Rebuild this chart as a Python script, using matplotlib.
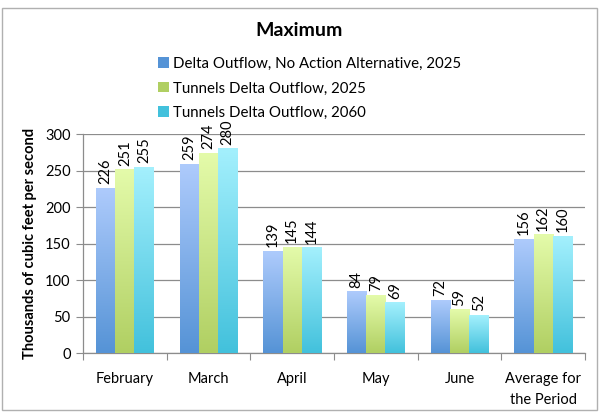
import matplotlib
matplotlib.use('Agg')
import matplotlib.pyplot as plt
import numpy as np
from matplotlib.patches import Patch, Rectangle
from matplotlib.colors import LinearSegmentedColormap

plt.rcParams['font.family'] = ['Lato', 'DejaVu Sans']

categories = ['February', 'March', 'April', 'May', 'June', 'Average for\nthe Period']
no_action_2025 = [226, 259, 139, 84, 72, 156]
tunnels_2025 = [251, 274, 145, 79, 59, 162]
tunnels_2060 = [255, 280, 144, 69, 52, 160]
series_names = ['Delta Outflow, No Action Alternative, 2025',
                'Tunnels Delta Outflow, 2025',
                'Tunnels Delta Outflow, 2060']
series = [no_action_2025, tunnels_2025, tunnels_2060]
# (top colour, bottom colour) of the gradient fill
grads = [('#aecbfc', '#5593d6'),
         ('#e4fbaa', '#b0cf62'),
         ('#a4f0fd', '#42c1dc')]

fig = plt.figure(figsize=(5.99, 4.12), dpi=100)
ax = fig.add_axes([0.1386, 0.1432, 0.838, 0.531])

x = np.arange(len(categories))
w = 0.23
grad = np.linspace(1, 0, 256).reshape(-1, 1)
for i, (vals, (c_top, c_bot)) in enumerate(zip(series, grads)):
    cmap = LinearSegmentedColormap.from_list('g%d' % i, [c_bot, c_top])
    bars = ax.bar(x + (i - 1) * w, vals, w, color=c_bot, zorder=2)
    for b, v in zip(bars, vals):
        x0 = b.get_x()
        ax.imshow(grad, cmap=cmap, aspect='auto', zorder=3,
                  extent=(x0, x0 + b.get_width(), 0, b.get_height()))
        ax.annotate(str(v), (x0 + b.get_width() / 2, v), xytext=(0, 3),
                    textcoords='offset points', rotation=90, ha='center',
                    va='bottom', fontsize=10.5, color='black', zorder=4)

ax.set_xlim(-0.5, len(categories) - 0.5)
ax.set_ylim(0, 300)
ax.set_yticks(range(0, 301, 50))
ax.yaxis.grid(True, color='#8c8c8c', lw=0.9, zorder=0)
ax.set_axisbelow(True)

ax.set_xticks(np.arange(-0.5, len(categories), 1.0))
ax.set_xticklabels([])
ax.set_xticks(x, minor=True)
ax.set_xticklabels(categories, minor=True, fontsize=10.5, linespacing=1.6)
ax.tick_params(axis='x', which='major', length=5, color='#8c8c8c', direction='out')
ax.tick_params(axis='x', which='minor', length=0, pad=14)
ax.tick_params(axis='y', length=5, color='#8c8c8c', labelsize=10.5, pad=4)

for s in ['top', 'right']:
    ax.spines[s].set_visible(False)
for s in ['left', 'bottom']:
    ax.spines[s].set_color('#8c8c8c')
    ax.spines[s].set_linewidth(0.9)

ax.set_ylabel('Thousands of cubic feet per second', fontsize=10.5,
              fontweight='bold', labelpad=6)

fig.text(0.5, 0.926, 'Maximum', ha='center', va='center', fontsize=14,
         fontweight='bold')

handles = [Patch(facecolor=c_bot, edgecolor='none') for c_top, c_bot in grads]
fig.legend(handles, series_names, loc='upper left',
           bbox_to_anchor=(0.252, 0.88), frameon=False, fontsize=10.8,
           handlelength=0.7, handleheight=0.7, handletextpad=0.3,
           labelspacing=0.7, borderpad=0)

fig.patches.append(Rectangle((0.004, 0.005), 0.992, 0.975,
                             transform=fig.transFigure, fill=False,
                             edgecolor='#b0b0b0', lw=1.0))

fig.savefig('out.png', dpi=100)
